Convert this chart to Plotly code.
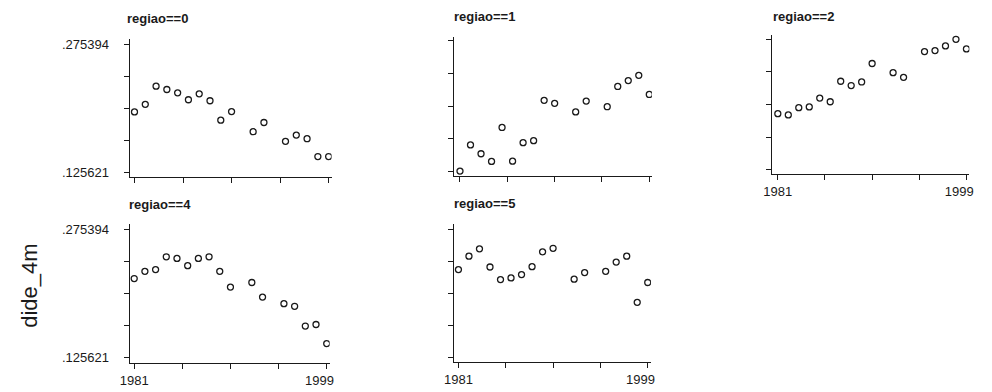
import plotly.graph_objects as go

# ---------------- data ----------------
years = [1981, 1982, 1983, 1984, 1985, 1986, 1987, 1988, 1989, 1990,
         1992, 1993, 1995, 1996, 1997, 1998, 1999]

regiao_0 = [0.1961, 0.2050, 0.2263, 0.2224, 0.2185, 0.2104, 0.2173, 0.2092, 0.1865, 0.1965,
            0.1729, 0.1837, 0.1616, 0.1690, 0.1647, 0.1438, 0.1438]
regiao_1 = [0.1256, 0.1557, 0.1455, 0.1367, 0.1758, 0.1370, 0.1583, 0.1606, 0.2070, 0.2036,
            0.1937, 0.2062, 0.1997, 0.2230, 0.2298, 0.2358, 0.2138]
regiao_2 = [0.1899, 0.1885, 0.1968, 0.1976, 0.2078, 0.2036, 0.2271, 0.2222, 0.2263, 0.2475,
            0.2370, 0.2316, 0.2612, 0.2623, 0.2677, 0.2753, 0.2642]
regiao_4 = [0.2178, 0.2262, 0.2282, 0.2431, 0.2412, 0.2328, 0.2412, 0.2431, 0.2262, 0.2078,
            0.2132, 0.1962, 0.1885, 0.1855, 0.1625, 0.1643, 0.1421]
regiao_5 = [0.2282, 0.2438, 0.2524, 0.2312, 0.2166, 0.2185, 0.2224, 0.2316, 0.2489, 0.2530,
            0.2170, 0.2247, 0.2262, 0.2369, 0.2438, 0.1901, 0.2132]

panel_titles = ["regiao==0", "regiao==1", "regiao==2", "regiao==4", "regiao==5"]
y_min, y_max = 0.125621, 0.275394
y_tick_labels = [".125621", "", "", "", ".275394"]
x_min, x_max = 1981, 1999
x_tick_labels = ["1981", "", "", "", "1999\u00a0\u00a0\u00a0\u00a0"]
y_title = "dide_4m"

series = [regiao_0, regiao_1, regiao_2, regiao_4, regiao_5]

# ---------------- layout geometry (screen pixels; page body adds an 8px offset) ----------------
W, H = 992, 392
OFF = 8
# (left, right, top, bottom, px_1981, px_1999, py_ymax, py_ymin, show_ylabels, show_xlabels, title_x, title_y)
geom = [
    (123, 331, 37, 177, 128, 328, 42.7, 171.7, True, False, 118, 17),
    (457, 661, 35, 176, 463.3, 658.3, 39.3, 170.7, False, False, 455, 15),
    (785, 988, 33, 174, 790.7, 985, 37.5, 169.3, False, True, 784, 15),
    (123, 329, 224, 365, 127.7, 326, 229.3, 359.3, True, True, 120, 205),
    (457, 660, 224, 364, 461.7, 656.7, 229.3, 359.3, False, True, 455, 203),
]

y_ticks = [y_min + i * (y_max - y_min) / 4 for i in range(5)]
x_ticks = [x_min + i * (x_max - x_min) / 4 for i in range(5)]

FONT = "Liberation Sans, Arial, sans-serif"
INK = "#1a1a1a"

fig = go.Figure()
layout = dict(
    width=W, height=H, margin=dict(l=0, r=0, t=0, b=0),
    paper_bgcolor="white", plot_bgcolor="white", showlegend=False,
    font=dict(family=FONT, color=INK, size=13),
)
annotations = []

def px_x(v):
    return (v - OFF) / W

def px_y(v):
    return 1 - (v - OFF) / H

for i, (vals, title, g) in enumerate(zip(series, panel_titles, geom)):
    left, right, top, bottom, px0, px1, pyt, pyb, showy, showx, tx, ty = g
    ax = "" if i == 0 else str(i + 1)
    a = (px1 - px0) / (x_max - x_min)
    b = (pyb - pyt) / (y_max - y_min)
    xr = [x_min - (px0 - left) / a, x_max + (right - px1) / a]
    yr = [y_min - (bottom - pyb) / b, y_max + (pyt - top) / b]

    fig.add_trace(go.Scatter(
        x=years, y=vals, mode="markers",
        marker=dict(symbol="circle-open", size=6, color=INK, line=dict(width=1.3, color=INK)),
        xaxis="x" + ax, yaxis="y" + ax, hoverinfo="skip",
    ))

    layout["xaxis" + ax] = dict(
        domain=[px_x(left), px_x(right)], range=xr, anchor="y" + ax,
        showgrid=False, zeroline=False, showline=True, linecolor=INK, linewidth=1.2,
        ticks="outside", ticklen=5, tickwidth=1, tickcolor=INK,
        tickvals=x_ticks, ticktext=x_tick_labels if showx else [""] * 5,
        tickfont=dict(size=13, family=FONT, color=INK),
    )
    layout["yaxis" + ax] = dict(
        domain=[px_y(bottom), px_y(top)], range=yr, anchor="x" + ax,
        showgrid=False, zeroline=False, showline=True, linecolor=INK, linewidth=1.2,
        ticks="outside", ticklen=5, tickwidth=1, tickcolor=INK,
        tickvals=y_ticks, ticktext=y_tick_labels if showy else [""] * 5,
        tickfont=dict(size=13, family=FONT, color=INK),
        ticklabelstandoff=12,
    )
    annotations.append(dict(
        text="<b>" + title + "</b>", x=px_x(tx), y=px_y(ty),
        xref="paper", yref="paper", xanchor="left", yanchor="middle",
        showarrow=False, font=dict(size=13, family=FONT, color=INK),
    ))

annotations.append(dict(
    text=y_title, x=px_x(20), y=px_y(287), xref="paper", yref="paper",
    xanchor="center", yanchor="middle", textangle=-90, showarrow=False,
    font=dict(size=22, family=FONT, color=INK),
))
layout["annotations"] = annotations
fig.update_layout(**layout)
fig.write_html("out.html")
